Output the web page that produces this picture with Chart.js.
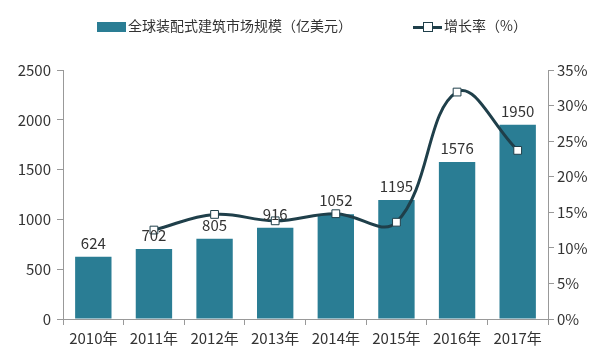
<!DOCTYPE html>
<html>
<head>
<meta charset="utf-8">
<script src="https://cdn.jsdelivr.net/npm/chart.js@4"></script>
<style>
  html, body { margin: 0; padding: 0; background: #fff; }
  #wrap { position: relative; width: 600px; height: 362px; }
  #legend { position: absolute; top: 15px; left: 0; width: 600px; font: 14px "Noto Sans CJK SC", sans-serif; color: #333; }
  .item { position: absolute; top: 0; height: 20px; line-height: 20px; white-space: nowrap; }
  .box { display: inline-block; width: 29px; height: 10px; background: #2a7d94; vertical-align: -1px; margin-right: 2px; }
  .ln { display: inline-block; position: relative; width: 29px; height: 10px; vertical-align: -1px; margin-right: 2px; }
  .ln i { position: absolute; left: 0; right: 0; top: 4px; height: 3px; background: #1f3f4a; }
  .ln b { position: absolute; left: 10px; top: 0; width: 8px; height: 8px; background: #fff; border: 1px solid #1f3f4a; }
</style>
</head>
<body>
<div id="wrap">
  <div id="legend">
    <div class="item" style="left:97px"><span class="box"></span>全球装配式建筑市场规模（亿美元）</div>
    <div class="item" style="left:413px"><span class="ln"><i></i><b></b></span>增长率（%）</div>
  </div>
  <canvas id="chart" width="600" height="362"></canvas>
</div>
<script>
var years = ['2010年', '2011年', '2012年', '2013年', '2014年', '2015年', '2016年', '2017年'];
var marketSize = [624, 702, 805, 916, 1052, 1195, 1576, 1950];
var growthRate = [null, 12.5, 14.7, 13.8, 14.8, 13.6, 31.9, 23.7];
var leftTicks = [0, 500, 1000, 1500, 2000, 2500];
var rightTicks = [0, 5, 10, 15, 20, 25, 30, 35];

var font = '"Noto Sans CJK SC", sans-serif';

// value labels above the bars
var barLabels = {
    id: 'barLabels',
    afterDatasetsDraw: function(chart) {
        var ctx = chart.ctx;
        var meta = chart.getDatasetMeta(1);
        ctx.save();
        ctx.font = '15px ' + font;
        ctx.fillStyle = '#333';
        ctx.textAlign = 'center';
        ctx.textBaseline = 'bottom';
        meta.data.forEach(function(bar, i) {
            ctx.fillText(marketSize[i], bar.x, bar.y - 6);
        });
        ctx.restore();
    }
};

var ctx = document.getElementById('chart').getContext('2d');
var chart = new Chart(ctx, {
    type: 'bar',
    data: {
        labels: years,
        datasets: [{
            type: 'line',
            label: '增长率（%）',
            data: growthRate,
            yAxisID: 'y2',
            borderColor: '#1f3f4a',
            borderWidth: 3,
            tension: 0.4,
            pointStyle: 'rect',
            pointRadius: 5.5,
            pointBorderWidth: 1,
            pointBackgroundColor: '#fff',
            pointBorderColor: '#1f3f4a',
            order: 0
        }, {
            label: '全球装配式建筑市场规模（亿美元）',
            data: marketSize,
            yAxisID: 'y',
            backgroundColor: '#2a7d94',
            categoryPercentage: 0.6,
            barPercentage: 1,
            order: 1
        }]
    },
    options: {
        responsive: false,
        animation: false,
        layout: { padding: { top: 70, left: 0, right: 0, bottom: 0 } },
        plugins: { legend: { display: false }, tooltip: { enabled: false } },
        scales: {
            x: {
                grid: { display: true, drawOnChartArea: false, offset: true, color: '#999', tickLength: 6 },
                border: { color: '#999' },
                ticks: { color: '#333', font: { family: font, size: 15 }, padding: 4, maxRotation: 0 },
                afterFit: function(s) { s.height = 43; }
            },
            y: {
                position: 'left',
                min: 0, max: 2500,
                afterBuildTicks: function(s) { s.ticks = leftTicks.map(function(v) { return { value: v }; }); },
                grid: { display: true, drawOnChartArea: false, color: '#999', tickLength: 6 },
                border: { color: '#999' },
                ticks: { color: '#333', font: { family: font, size: 15 }, padding: 6,
                    callback: function(v) { return String(v); } },
                afterFit: function(s) { s.width = 63; }
            },
            y2: {
                position: 'right',
                min: 0, max: 35,
                afterBuildTicks: function(s) { s.ticks = rightTicks.map(function(v) { return { value: v }; }); },
                grid: { display: true, drawOnChartArea: false, color: '#999', tickLength: 6 },
                border: { color: '#999' },
                ticks: { color: '#333', font: { family: font, size: 15 }, padding: 3,
                    callback: function(v) { return v + '%'; } },
                afterFit: function(s) { s.width = 52; }
            }
        }
    },
    plugins: [barLabels]
});
</script>
</body>
</html>
